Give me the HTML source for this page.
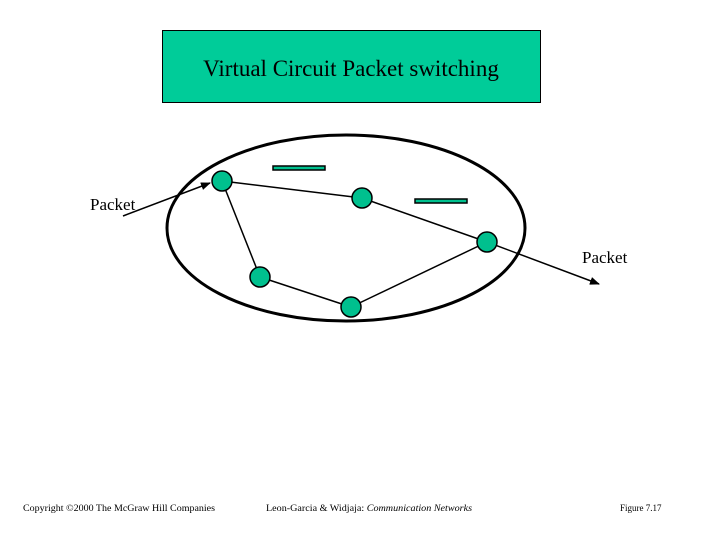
<!DOCTYPE html>
<html><head><style>body{margin:0;background:#fff}svg{display:block}</style></head><body>
<svg width="720" height="540" xmlns="http://www.w3.org/2000/svg">
<defs><marker id="a" markerWidth="10" markerHeight="8" refX="9" refY="4" orient="auto" markerUnits="userSpaceOnUse"><path d="M0,0 L10,4 L0,8 z" fill="#000"/></marker></defs>
<rect x="162.5" y="30.5" width="378" height="72" fill="#00cc99" stroke="#000" stroke-width="1"/>
<text x="351" y="76" font-family="Liberation Serif, serif" font-size="23" text-anchor="middle">Virtual Circuit Packet switching</text>
<ellipse cx="346" cy="228" rx="179" ry="93" fill="none" stroke="#000" stroke-width="3"/>
<g stroke="#000" stroke-width="1.5">
<line x1="222" y1="181" x2="362" y2="198"/>
<line x1="362" y1="198" x2="487" y2="242"/>
<line x1="222" y1="181" x2="260" y2="277"/>
<line x1="260" y1="277" x2="351" y2="307"/>
<line x1="351" y1="307" x2="487" y2="242"/>
<line x1="123" y1="216" x2="210" y2="183" marker-end="url(#a)"/>
<line x1="487" y1="242" x2="599" y2="284" marker-end="url(#a)"/>
</g>
<g fill="#00c08e" stroke="#000" stroke-width="1.5">
<circle cx="222" cy="181" r="10"/><circle cx="362" cy="198" r="10"/><circle cx="487" cy="242" r="10"/>
<circle cx="260" cy="277" r="10"/><circle cx="351" cy="307" r="10"/>
<rect x="273" y="166" width="52" height="4"/><rect x="415" y="199" width="52" height="4"/>
</g>
<text x="90" y="210" font-family="Liberation Serif, serif" font-size="17">Packet</text>
<text x="582" y="263" font-family="Liberation Serif, serif" font-size="17">Packet</text>
<g font-family="Liberation Serif, serif" font-size="9">
<text x="23" y="511" textLength="192" lengthAdjust="spacingAndGlyphs">Copyright ©2000 The McGraw Hill Companies</text>
<text x="266" y="511" textLength="206" lengthAdjust="spacingAndGlyphs">Leon-Garcia &amp; Widjaja:  <tspan font-style="italic">Communication Networks</tspan></text>
<text x="620" y="511">Figure 7.17</text>
</g>
</svg>
</body></html>
